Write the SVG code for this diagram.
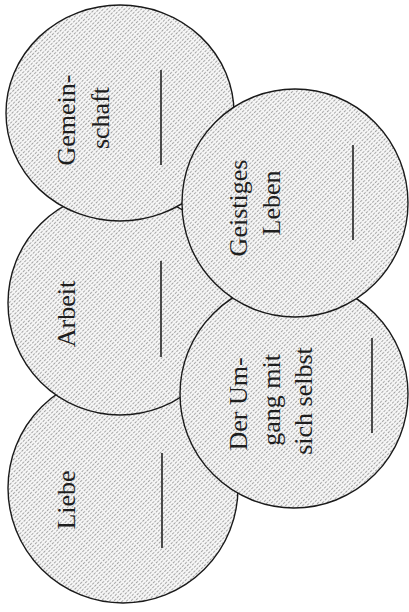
<svg xmlns="http://www.w3.org/2000/svg" width="409" height="612" viewBox="0 0 409 612">
<defs>
<pattern id="hatch" patternUnits="userSpaceOnUse" width="4" height="3" patternTransform="rotate(-45)">
<rect width="4" height="3" fill="#f6f6f6"/>
<line x1="0" y1="1.5" x2="4" y2="1.5" stroke="#9a9a9a" stroke-width="0.9" stroke-dasharray="2.6 1.4"/>
</pattern>
</defs>
<style>
.c{fill:url(#hatch);stroke:#1a1a1a;stroke-width:1.4}
.t{font-family:"Liberation Serif","Times New Roman",serif;font-size:26px;fill:#1e1e1e;text-anchor:middle}
.l{stroke:#222;stroke-width:1.6}
</style>
<rect width="409" height="612" fill="#ffffff"/>
<g id="liebe">
<ellipse class="c" cx="123" cy="488" rx="115" ry="115"/>
<text class="t" transform="translate(75,500) rotate(-90)">Liebe</text>
<line class="l" x1="162" y1="453" x2="162" y2="548"/>
</g>
<g id="arbeit">
<ellipse class="c" cx="120" cy="303" rx="112" ry="112"/>
<text class="t" transform="translate(75,314) rotate(-90)">Arbeit</text>
<line class="l" x1="161" y1="261" x2="161" y2="357"/>
</g>
<g id="gemeinschaft">
<ellipse class="c" cx="120" cy="113" rx="114" ry="108"/>
<text class="t" transform="translate(75,120) rotate(-90)">Gemein-</text>
<text class="t" transform="translate(109,118) rotate(-90)">schaft</text>
<line class="l" x1="161" y1="70" x2="161" y2="165"/>
</g>
<g id="umgang">
<ellipse class="c" cx="294" cy="394" rx="114" ry="114"/>
<text class="t" transform="translate(247,404) rotate(-90)">Der Um-</text>
<text class="t" transform="translate(280,400) rotate(-90)">gang mit</text>
<text class="t" transform="translate(312,401) rotate(-90)">sich selbst</text>
<line class="l" x1="372" y1="338" x2="372" y2="433"/>
</g>
<g id="geistiges">
<ellipse class="c" cx="295" cy="203" rx="113" ry="114"/>
<text class="t" transform="translate(247,208) rotate(-90)">Geistiges</text>
<text class="t" transform="translate(280,203) rotate(-90)">Leben</text>
<line class="l" x1="353" y1="145" x2="353" y2="240"/>
</g>
<g id="connectors"/>
</svg>
